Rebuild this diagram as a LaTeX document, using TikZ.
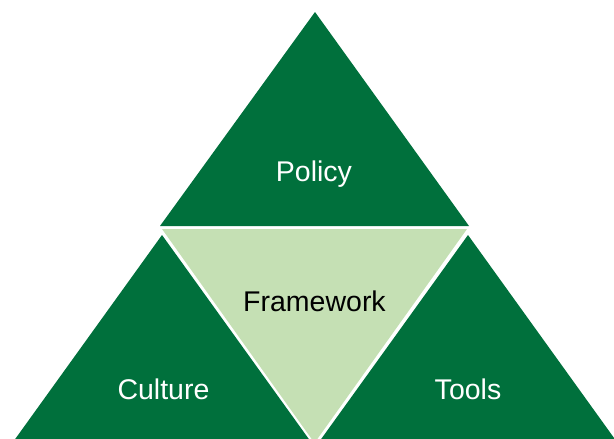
\documentclass[tikz,border=0pt]{standalone}
\usepackage{fontspec}
\setmainfont{Liberation Sans}
\usepackage{xcolor}
\usepackage{tikz}
\definecolor{darkgreen}{RGB}{0,112,60}
\definecolor{lightgreen}{RGB}{197,224,180}

\begin{document}
\begin{tikzpicture}[x=1pt, y=-1pt,
        label text/.style={font=\fontsize{28.5}{31}\selectfont, anchor=base, inner sep=0pt}]
        \useasboundingbox (0,0) rectangle (614,439);
        \clip (0,0) rectangle (614,439);
        % Triangles
        \fill [darkgreen] (315,12) -- (160,226) -- (469,226) -- cycle;
        \fill [lightgreen] (162,229) -- (467,229) -- (314.5,443) -- cycle;
        \fill [darkgreen] (162,235) -- (8,449) -- (316,449) -- cycle;
        \fill [darkgreen] (468,235) -- (314,449) -- (622,449) -- cycle;

        % Labels
        \node [label text, text=white] (policy) at (314,181) {Policy};
        \node [label text, text=black] (framework) at (314.5,311) {Framework};
        \node [label text, text=white] (culture) at (163.5,399) {Culture};
        \node [label text, text=white] (tools) at (468,399) {Tools};
\end{tikzpicture}
\end{document}
